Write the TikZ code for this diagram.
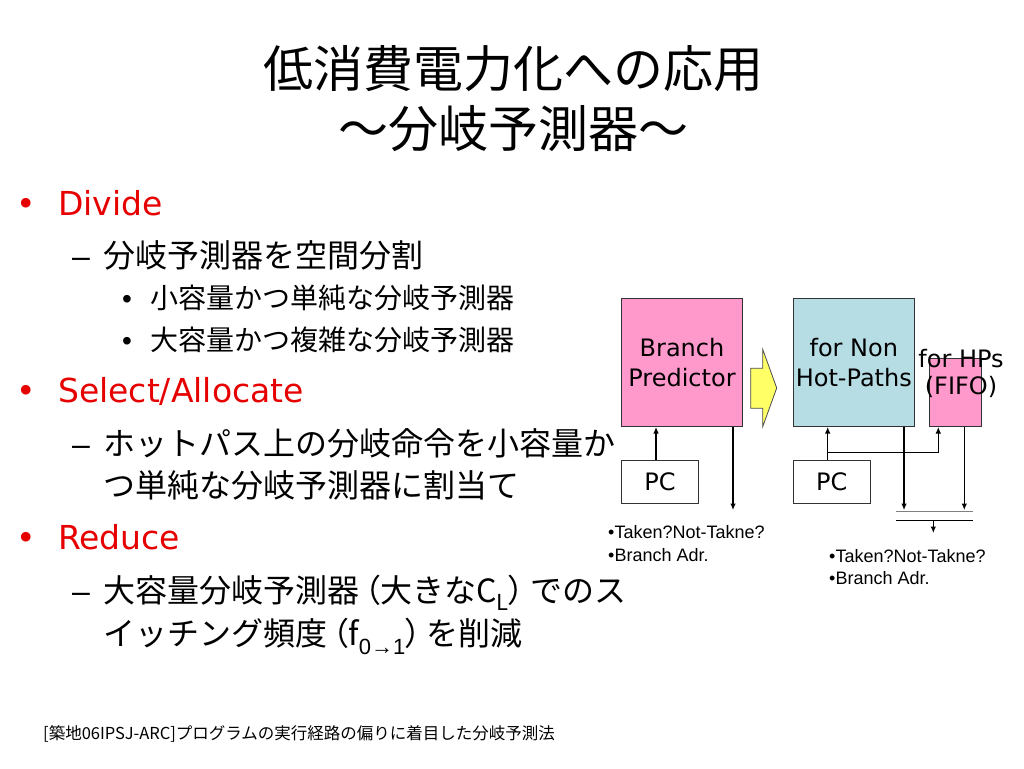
\documentclass[tikz,border=0pt]{standalone}
\usepackage{fontspec}
\setmainfont{Liberation Sans}
\newfontfamily\jpfont{Noto Sans CJK JP}
\newfontfamily\jppfont[RawFeature=+palt]{Noto Sans CJK JP}
\newfontfamily\boxfont{DejaVu Sans}
\usetikzlibrary{positioning,arrows.meta}

\definecolor{bppink}{RGB}{255,153,204}
\definecolor{nhpblue}{RGB}{183,221,228}
\definecolor{arrowyellow}{RGB}{255,255,102}
\definecolor{headred}{RGB}{230,0,0}

\tikzset{
  blk/.style={draw=black!80, line width=1pt, inner sep=0pt, align=center,
    font=\boxfont\fontsize{24}{30}\selectfont},
  pcbox/.style={blk, fill=white, minimum width=77pt, minimum height=43pt},
  txt/.style={anchor=base west, inner sep=0pt},
  head/.style={txt, text=headred, font=\boxfont\fontsize{33}{33}\selectfont},
  lvtwo/.style={txt, font=\jpfont\fontsize{32}{32}\selectfont},
  lvthree/.style={txt, font=\jpfont\fontsize{28}{28}\selectfont},
  note/.style={txt, font=\fontsize{18}{18}\selectfont},
  wire/.style={line width=1.1pt, -{Latex[length=6.5pt,width=5.5pt]}},
}

\begin{document}
\begin{tikzpicture}[x=1pt,y=-1pt]
\fill[white] (0,0) rectangle (1024,768);
\useasboundingbox (0,0) rectangle (1024,768);

% title
\node[anchor=base, inner sep=0pt, font=\jpfont\fontsize{50}{50}\selectfont] (title) at (513,87) {低消費電力化への応用};
\node[anchor=base, inner sep=0pt, font=\jpfont\fontsize{50}{50}\selectfont] (subtitle) at (513,147) {～分岐予測器～};

% bullets
\node[head] (divide) at (16,215) {\makebox[42pt][l]{•}Divide};
\node[lvtwo] (divideA) at (72,267) {\makebox[31pt][l]{{\rmfamily –}}分岐予測器を空間分割};
\node[lvthree] (divideB) at (122,308) {\makebox[28pt][l]{{\rmfamily •}}小容量かつ単純な分岐予測器};
\node[lvthree] (divideC) at (122,350) {\makebox[28pt][l]{{\rmfamily •}}大容量かつ複雑な分岐予測器};

\node[head] (select) at (16,402) {\makebox[42pt][l]{•}Select/Allocate};
\node[lvtwo] (selectA) at (72,455) {\makebox[31pt][l]{{\rmfamily –}}ホットパス上の分岐命令を小容量か};
\node[lvtwo] (selectB) at (103,497) {つ単純な分岐予測器に割当て};

\node[head] (reduce) at (16,549) {\makebox[42pt][l]{•}Reduce};
\node[lvtwo] (reduceA) at (72,602) {\makebox[31pt][l]{{\rmfamily –}}大容量分岐予測器\,{\jppfont （}大きなC\raisebox{-0.25em}{\fontsize{22}{22}\selectfont L}{\jppfont ）}\,でのス};
\node[lvtwo] (reduceB) at (103,645) {イッチング頻度\,{\jppfont （}f\raisebox{-0.3em}{\fontsize{22}{22}\selectfont\rmfamily 0→1}{\jppfont ）}\,を削減};

% reference
\node[txt, font=\jpfont\fontsize{16.5}{16.5}\selectfont] (cite) at (43,739) {[築地06IPSJ-ARC]プログラムの実行経路の偏りに着目した分岐予測法};

% before
\node[blk, fill=bppink, minimum width=121pt, minimum height=128pt] (bp) at (682,362.5) {Branch\\Predictor};
\node[pcbox] (pc1) at (660,482) {PC};
\draw[wire] ([xshift=-4pt]pc1.north) -- ([xshift=-4pt]pc1.north |- bp.south);
\coordinate (bpout) at (733,510);
\draw[wire] (bpout |- bp.south) -- (bpout);
\node[note] (bpnoteA) at (608,538) {•Taken?Not-Takne?};
\node[note] (bpnoteB) at (608,561) {•Branch Adr.};

% yellow arrow
\filldraw[fill=arrowyellow, draw=black!70, line width=0.8pt]
  (750.7,368.3) -- (762.7,368.3) -- (762.7,349.3) -- (776.7,388)
  -- (762.7,426.7) -- (762.7,408.3) -- (750.7,408.3) -- cycle;

% after
\node[blk, fill=nhpblue, minimum width=121pt, minimum height=128pt] (nhp) at (853.8,362.5) {for Non\\Hot-Paths};
\node[blk, fill=bppink, minimum width=52pt, minimum height=68pt] (hp) at (955.8,392.5) {};
\node[blk, draw=none, font=\boxfont\fontsize{24}{27}\selectfont] (hplabel) at (961,373) {for HPs\\(FIFO)};
\node[pcbox] (pc2) at (831.7,482) {PC};
\draw[wire] ([xshift=-4pt]pc2.north) -- ([xshift=-4pt]pc2.north |- nhp.south);
\coordinate (fork) at (827.7,452.3);
\draw[wire] (fork) -| ([xshift=-17.5pt]hp.south);
\coordinate (nhpout) at (904,510);
\coordinate (hpout) at (964.3,510);
\draw[wire] (nhpout |- nhp.south) -- (nhpout);
\draw[wire] (hpout |- hp.south) -- (hpout);
\coordinate (busa) at (896,511.7);
\coordinate (busb) at (972.7,511.7);
\draw[black!50, line width=1.5pt] (busa) -- (busb);
\coordinate (sela) at (896,520);
\coordinate (selb) at (972.7,520);
\draw[line width=1pt] (sela) -- (selb);
\coordinate (selout) at (933.3,533);
\draw[wire] (selout |- sela) -- (selout);
\node[note] (nhpnoteA) at (829,562) {•Taken?Not-Takne?};
\node[note] (nhpnoteB) at (829,584) {•Branch Adr.};
\end{tikzpicture}
\end{document}
